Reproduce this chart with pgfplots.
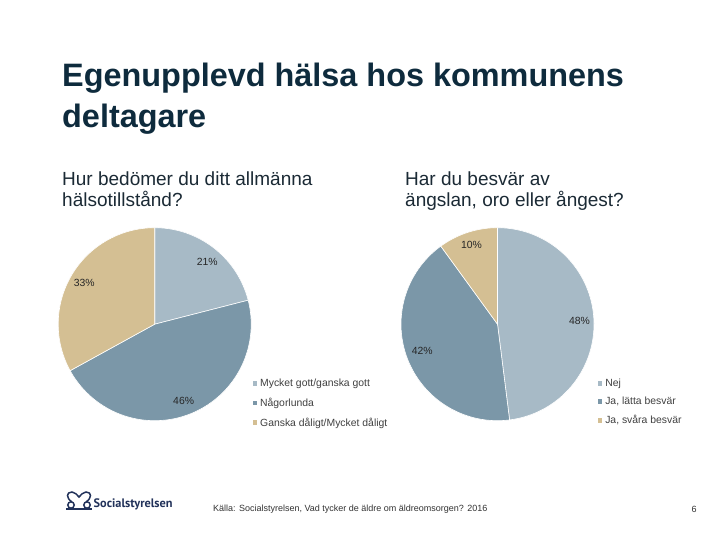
\documentclass[border=0pt]{standalone}
\usepackage{pgfplots}
\pgfplotsset{compat=1.18}
\usepackage{fontspec}
\setmainfont{Liberation Sans}
\newfontfamily\logofont{PT Sans}
\definecolor{cLight}{HTML}{A7BAC6}
\definecolor{cDark}{HTML}{7B97A8}
\definecolor{cTan}{HTML}{D4BF93}
\definecolor{titlec}{HTML}{0E2B3D}
\definecolor{textc}{HTML}{1B2A35}
\definecolor{legc}{HTML}{404040}
\definecolor{logoc}{HTML}{22325A}
% one pie slice: #1 = share before it (%), #2 = its share (%), #3 = colour
\newcommand{\slice}[3]{%
  \addplot[fill=#3, draw=white, line width=0.6pt,
    domain=90-3.6*(#1+#2):90-3.6*(#1), samples=90, variable=\t]
    ({cos(t)},{sin(t)}) -- (0,0) -- cycle;
}
\pgfplotsset{
  pie/.style={
    anchor=origin, width=193bp, height=193bp, scale only axis,
    hide axis, xmin=-1, xmax=1, ymin=-1, ymax=1, clip=false,
    legend cell align=left,
    legend image code/.code={\fill[##1, draw=none] (0bp,-2.3bp) rectangle (4.6bp,2.3bp);},
    legend style={draw=none, fill=none, inner sep=0pt,
      font=\fontsize{10.4bp}{12bp}\selectfont, text=legc,
      row sep=8bp, nodes={inner xsep=3bp, inner ysep=0pt}},
  },
}
\tikzset{lab/.style={font=\fontsize{10.4bp}{12bp}\selectfont, text=black!85}}
\begin{document}
\begin{tikzpicture}[x=1bp, y=1bp]
\path[fill=white, use as bounding box] (0,0) rectangle (720,540);
% title
\node[anchor=base west, inner sep=0pt, text=titlec, font=\fontsize{32.4bp}{38bp}\selectfont\bfseries] at (62,453) {Egenupplevd hälsa hos kommunens};
\node[anchor=base west, inner sep=0pt, text=titlec, font=\fontsize{32.4bp}{38bp}\selectfont\bfseries] at (62,412) {deltagare};
% subtitles
\node[anchor=base west, inner sep=0pt, text=textc, font=\fontsize{19bp}{21bp}\selectfont] at (62,354) {Hur bedömer du ditt allmänna};
\node[anchor=base west, inner sep=0pt, text=textc, font=\fontsize{19bp}{21bp}\selectfont] at (62,333) {hälsotillstånd?};
\node[anchor=base west, inner sep=0pt, text=textc, font=\fontsize{19bp}{21bp}\selectfont] at (405,354) {Har du besvär av};
\node[anchor=base west, inner sep=0pt, text=textc, font=\fontsize{19bp}{21bp}\selectfont] at (405,333) {ängslan, oro eller ångest?};

% left pie
\begin{axis}[pie, at={(154.7bp,215.8bp)},
  legend style={at={(rel axis cs:1.006,0.216)}, anchor=north west, row sep=9.8bp}]
\slice{0}{21}{cLight}
\slice{21}{46}{cDark}
\slice{67}{33}{cTan}
\legend{Mycket gott/ganska gott, Någorlunda, Ganska dåligt/Mycket dåligt}
\node[lab] at (axis cs:0.545,0.65) {21\%};
\node[lab] at (axis cs:-0.73,0.43) {33\%};
\node[lab] at (axis cs:0.30,-0.80) {46\%};
\end{axis}

% right pie
\begin{axis}[pie, at={(497.5bp,215.8bp)},
  legend style={at={(rel axis cs:1.018,0.216)}, anchor=north west, row sep=9bp}]
\slice{0}{48}{cLight}
\slice{48}{42}{cDark}
\slice{90}{10}{cTan}
\legend{Nej, {Ja, lätta besvär}, {Ja, svåra besvär}}
\node[lab] at (axis cs:-0.27,0.82) {10\%};
\node[lab] at (axis cs:0.85,0.03) {48\%};
\node[lab] at (axis cs:-0.78,-0.28) {42\%};
\end{axis}

% footer
\begin{scope}[logoc, line width=1.5bp]
\draw (72,38) .. controls (66,42) and (66,48) .. (72,48) .. controls (75,48) and (77,45) .. (79,43) .. controls (81,45) and (83,48) .. (86,48) .. controls (92,48) and (92,42) .. (86,38);
\draw (71,35) circle (3.2);
\draw (87,35) circle (3.2);
\draw (66,31) -- (92,31);
\end{scope}
\node[anchor=base west, inner sep=0pt, text=logoc, font=\logofont\bfseries\fontsize{12.3bp}{15bp}\selectfont] at (93.5,32) {Socialstyrelsen};
\node[anchor=west, inner sep=0pt, text=black!80, font=\fontsize{9bp}{10bp}\selectfont] at (213,31) {Källa: Socialstyrelsen, Vad tycker de äldre om äldreomsorgen? 2016};
\node[anchor=center, inner sep=0pt, text=black!80, font=\fontsize{9bp}{10bp}\selectfont] at (694,31) {6};
\end{tikzpicture}
\end{document}
